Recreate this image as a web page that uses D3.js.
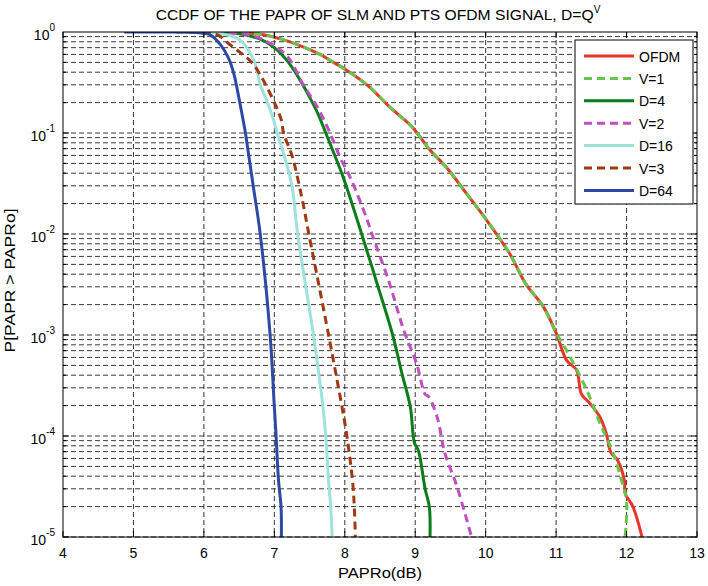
<!DOCTYPE html>
<html>
<head>
<meta charset="utf-8">
<script src="https://cdn.jsdelivr.net/npm/d3@7"></script>
<style>
  body { margin: 0; background: #fff; }
  text { font-family: "Liberation Sans", Arial, sans-serif; fill: #000; }
</style>
</head>
<body>
<svg id="chart" width="708" height="586"></svg>
<script>
// CCDF of PAPR, [PAPRo dB, probability]
const ofdm = [[5.6,1],[6.3,0.995],[6.8,0.95],[7.1,0.85],[7.37,0.73],[7.65,0.6],[7.84,0.5],[8.0,0.43],
  [8.34,0.29],[8.64,0.18],[8.95,0.116],[9.21,0.068],[9.45,0.045],[9.75,0.024],[10.01,0.0138],
  [10.34,0.0064],[10.57,0.0032],[10.82,0.0019],[11.0,1.05e-3],[11.15,5.6e-4],[11.29,4.5e-4],
  [11.36,2.6e-4],[11.48,2.1e-4],[11.62,1.55e-4],[11.71,1.07e-4],[11.78,6.8e-5],[11.87,5.8e-5],
  [11.97,3.6e-5],[11.98,2.7e-5],[12.09,2.0e-5],[12.22,1e-5]];
const v1 = [[5.6,1],[6.3,0.995],[6.8,0.95],[7.1,0.85],[7.37,0.73],[7.65,0.6],[7.84,0.5],[8.0,0.43],
  [8.34,0.29],[8.64,0.18],[8.95,0.116],[9.21,0.068],[9.45,0.045],[9.75,0.024],[10.01,0.0138],
  [10.34,0.0064],[10.57,0.0032],[10.82,0.0019],[11.0,1.05e-3],[11.15,7e-4],[11.43,2.9e-4],
  [11.62,1.35e-4],[11.81,6.8e-5],[11.93,3.6e-5],[12.0,2.3e-5],[11.98,1e-5]];
const d4 = [[5.8,1],[6.2,0.99],[6.5,0.96],[6.8,0.85],[7.0,0.7],[7.2,0.5],[7.37,0.33],[7.51,0.22],
  [7.62,0.155],[7.73,0.1],[7.85,0.062],[7.98,0.036],[8.24,0.01],[8.46,0.0032],[8.68,0.001],
  [8.81,4.2e-4],[8.93,1.95e-4],[8.99,8.5e-5],[9.045,7.2e-5],[9.14,3.0e-5],[9.20,2.0e-5],[9.21,1e-5]];
const v2 = [[5.8,1],[6.3,0.99],[6.66,0.93],[6.9,0.8],[7.18,0.58],[7.4,0.31],[7.62,0.176],[7.79,0.1],
  [7.94,0.056],[8.08,0.036],[8.31,0.0143],[8.385,0.01],[8.62,0.0035],[8.84,1.1e-3],[9.02,5.2e-4],
  [9.14,2.6e-4],[9.19,2.45e-4],[9.31,1.55e-4],[9.42,6.8e-5],[9.59,3.2e-5],[9.80,1e-5]];
const d16 = [[5.8,1],[6.0,0.995],[6.2,0.97],[6.42,0.9],[6.54,0.8],[6.72,0.5],[6.8,0.3],[6.88,0.22],
  [6.99,0.134],[7.04,0.1],[7.13,0.063],[7.25,0.03],[7.33,0.01],[7.555,0.001],[7.69,1.95e-4],
  [7.73,1e-4],[7.77,3.6e-5],[7.80,2e-5],[7.82,1e-5]];
const v3 = [[5.8,1],[6.0,0.99],[6.2,0.93],[6.38,0.74],[6.55,0.6],[6.69,0.49],[6.9,0.28],[7.1,0.134],
  [7.13,0.1],[7.25,0.06],[7.39,0.023],[7.49,0.01],[7.77,0.001],[7.96,1.95e-4],[8.03,1e-4],
  [8.11,3.6e-5],[8.135,2e-5],[8.15,1e-5]];
const d64 = [[4.87,1],[5.7,1],[5.9,0.99],[6.0,0.97],[6.1,0.93],[6.24,0.74],[6.35,0.55],[6.43,0.375],
  [6.48,0.256],[6.57,0.12],[6.59,0.1],[6.7,0.03],[6.8,0.01],[6.94,0.001],[7.0,1.95e-4],
  [7.025,1e-4],[7.06,3.6e-5],[7.095,2e-5],[7.10,1e-5]];

const seriesNames = ["OFDM", "V=1", "D=4", "V=2", "D=16", "V=3", "D=64"];
const seriesData = [ofdm, v1, d4, v2, d16, v3, d64];
const seriesColors = ["#e8352b", "#66c64a", "#0b7d1c", "#c04fc0", "#9de3dc", "#a0390f", "#2e49a3"];
const seriesDash = [null, "8,5", null, "8,5", null, "8,5", null];

const xTicks = d3.range(4, 14);
const yDecades = [-5, -4, -3, -2, -1, 0];

const svg = d3.select("#chart");
const plotL = 63, plotR = 697, plotT = 32, plotB = 537;

const x = d3.scaleLinear().domain([4, 13]).range([plotL, plotR]);
const y = d3.scaleLog().domain([1e-5, 1]).range([plotB, plotT]);

// grid
const grid = svg.append("g").attr("stroke", "#222").attr("stroke-width", 0.9)
  .attr("stroke-dasharray", "5,3");
xTicks.slice(1, -1).forEach(t => {
  grid.append("line").attr("x1", x(t)).attr("x2", x(t)).attr("y1", plotT).attr("y2", plotB);
});
const minorVals = [];
yDecades.slice(0, -1).forEach(e => {
  for (let m = 1; m < 10; m++) minorVals.push(m * Math.pow(10, e));
});
minorVals.forEach(v => {
  grid.append("line").attr("x1", plotL).attr("x2", plotR).attr("y1", y(v)).attr("y2", y(v));
});

// curves
const line = d3.line().x(d => x(d[0])).y(d => y(d[1])).curve(d3.curveCatmullRom.alpha(0.5));
svg.append("defs").append("clipPath").attr("id", "clip")
  .append("rect").attr("x", plotL).attr("y", plotT).attr("width", plotR - plotL).attr("height", plotB - plotT);
const curves = svg.append("g").attr("clip-path", "url(#clip)");
seriesData.forEach((s, i) => {
  curves.append("path")
    .attr("d", line(s))
    .attr("fill", "none")
    .attr("stroke", seriesColors[i])
    .attr("stroke-width", 3)
    .attr("stroke-dasharray", seriesDash[i])
    .attr("stroke-linejoin", "round");
});

// axes box and ticks (inside, MATLAB style)
const axisG = svg.append("g").attr("stroke", "#000").attr("stroke-width", 1);
axisG.append("rect").attr("x", plotL).attr("y", plotT).attr("width", plotR - plotL)
  .attr("height", plotB - plotT).attr("fill", "none");
xTicks.forEach(t => {
  axisG.append("line").attr("x1", x(t)).attr("x2", x(t)).attr("y1", plotB).attr("y2", plotB - 6);
  axisG.append("line").attr("x1", x(t)).attr("x2", x(t)).attr("y1", plotT).attr("y2", plotT + 6);
});
minorVals.forEach(v => {
  const len = Math.abs(Math.log10(v) - Math.round(Math.log10(v))) < 1e-9 ? 6 : 3;
  axisG.append("line").attr("x1", plotL).attr("x2", plotL + len).attr("y1", y(v)).attr("y2", y(v));
  axisG.append("line").attr("x1", plotR).attr("x2", plotR - len).attr("y1", y(v)).attr("y2", y(v));
});

// tick labels
svg.append("g").selectAll("text").data(xTicks).join("text")
  .attr("x", d => x(d)).attr("y", plotB + 21)
  .attr("text-anchor", "middle").style("font-size", "14px")
  .text(d => d);

const yLab = svg.append("g").selectAll("text").data(yDecades).join("text")
  .attr("x", 55).attr("y", d => y(Math.pow(10, d)) + 8)
  .attr("text-anchor", "end").style("font-size", "14px");
yLab.append("tspan").text("10");
yLab.append("tspan").attr("dy", -9).style("font-size", "10px").text(d => d);

// titles
const title = svg.append("text").attr("x", 378).attr("y", 20)
  .attr("text-anchor", "middle").style("font-size", "14px");
title.append("tspan").attr("textLength", 438).attr("lengthAdjust", "spacingAndGlyphs")
  .text("CCDF OF THE PAPR OF SLM AND PTS OFDM SIGNAL, D=Q");
title.append("tspan").attr("dy", -7).style("font-size", "10px").text("V");

svg.append("text").attr("x", 380).attr("y", 578).attr("text-anchor", "middle")
  .attr("textLength", 84).attr("lengthAdjust", "spacingAndGlyphs")
  .style("font-size", "14px").text("PAPRo(dB)");
svg.append("text").attr("transform", `translate(15,${(plotT + plotB) / 2 - 4}) rotate(-90)`)
  .attr("text-anchor", "middle").attr("textLength", 144).attr("lengthAdjust", "spacingAndGlyphs")
  .style("font-size", "14px").text("P[PAPR > PAPRo]");

// legend
const lg = svg.append("g").attr("transform", "translate(575,40)");
lg.append("rect").attr("width", 118).attr("height", 164)
  .attr("fill", "#fff").attr("stroke", "#000").attr("stroke-width", 1);
seriesNames.forEach((n, i) => {
  const yy = 16 + i * 22.4;
  lg.append("line").attr("x1", 9).attr("x2", 59).attr("y1", yy).attr("y2", yy)
    .attr("stroke", seriesColors[i]).attr("stroke-width", 3)
    .attr("stroke-dasharray", seriesDash[i]);
  lg.append("text").attr("x", 64).attr("y", yy + 5.5).style("font-size", "14px").text(n);
});
</script>
</body>
</html>
